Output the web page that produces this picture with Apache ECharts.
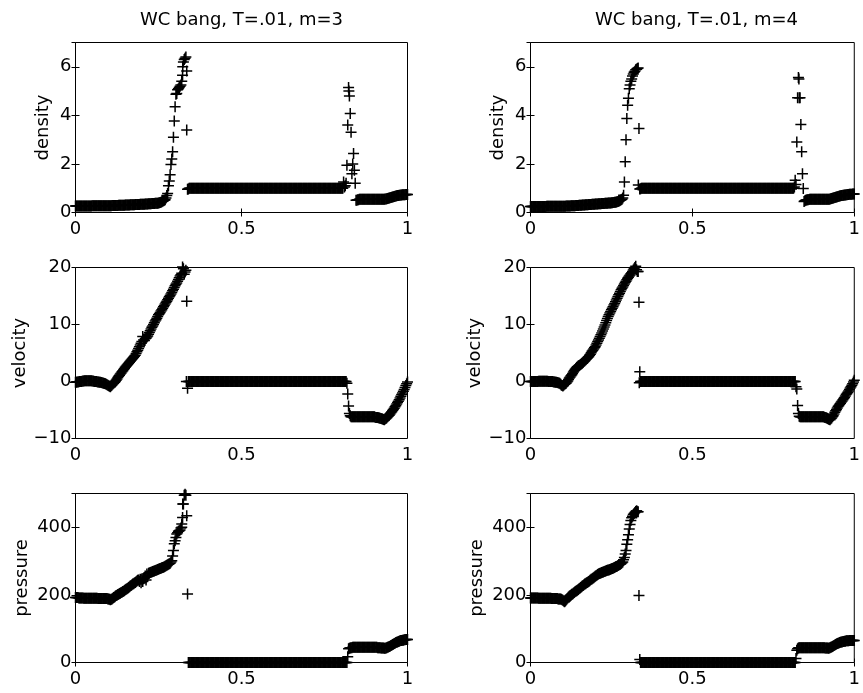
<!DOCTYPE html>
<html>
<head>
<meta charset="utf-8">
<script src="https://cdn.jsdelivr.net/npm/echarts@6/dist/echarts.min.js"></script>
<style>
html,body{margin:0;padding:0;background:#fff;}
#chart{width:863px;height:693px;}
</style>
</head>
<body>
<div id="chart"></div>
<script>
// Shared x grid (cell positions), 401 points
const xGrid = [
0,0.0025,0.005,0.0075,0.01,0.0125,0.015,0.0175,0.02,0.0225,0.025,0.0275,0.03,0.0325,0.035,0.0375,0.04,0.0425,0.045,0.0475,
0.05,0.0525,0.055,0.0575,0.06,0.0625,0.065,0.0675,0.07,0.0725,0.075,0.0775,0.08,0.0825,0.085,0.0875,0.09,0.0925,0.095,0.0975,
0.1,0.1025,0.105,0.1075,0.11,0.1125,0.115,0.1175,0.12,0.1225,0.125,0.1275,0.13,0.1325,0.135,0.1375,0.14,0.1425,0.145,0.1475,
0.15,0.1525,0.155,0.1575,0.16,0.1625,0.165,0.1675,0.17,0.1725,0.175,0.1775,0.18,0.1825,0.185,0.1875,0.19,0.1925,0.195,0.1975,
0.2,0.2025,0.205,0.2075,0.21,0.2125,0.215,0.2175,0.22,0.2225,0.225,0.2275,0.23,0.2325,0.235,0.2375,0.24,0.2425,0.245,0.2475,
0.25,0.2525,0.255,0.2575,0.26,0.2625,0.265,0.2675,0.27,0.2725,0.275,0.2775,0.28,0.2825,0.285,0.2875,0.29,0.2925,0.295,0.2975,
0.3,0.3025,0.305,0.3075,0.31,0.3125,0.315,0.3175,0.32,0.3225,0.325,0.3275,0.33,0.3325,0.335,0.3375,0.34,0.3425,0.345,0.3475,
0.35,0.3525,0.355,0.3575,0.36,0.3625,0.365,0.3675,0.37,0.3725,0.375,0.3775,0.38,0.3825,0.385,0.3875,0.39,0.3925,0.395,0.3975,
0.4,0.4025,0.405,0.4075,0.41,0.4125,0.415,0.4175,0.42,0.4225,0.425,0.4275,0.43,0.4325,0.435,0.4375,0.44,0.4425,0.445,0.4475,
0.45,0.4525,0.455,0.4575,0.46,0.4625,0.465,0.4675,0.47,0.4725,0.475,0.4775,0.48,0.4825,0.485,0.4875,0.49,0.4925,0.495,0.4975,
0.5,0.5025,0.505,0.5075,0.51,0.5125,0.515,0.5175,0.52,0.5225,0.525,0.5275,0.53,0.5325,0.535,0.5375,0.54,0.5425,0.545,0.5475,
0.55,0.5525,0.555,0.5575,0.56,0.5625,0.565,0.5675,0.57,0.5725,0.575,0.5775,0.58,0.5825,0.585,0.5875,0.59,0.5925,0.595,0.5975,
0.6,0.6025,0.605,0.6075,0.61,0.6125,0.615,0.6175,0.62,0.6225,0.625,0.6275,0.63,0.6325,0.635,0.6375,0.64,0.6425,0.645,0.6475,
0.65,0.6525,0.655,0.6575,0.66,0.6625,0.665,0.6675,0.67,0.6725,0.675,0.6775,0.68,0.6825,0.685,0.6875,0.69,0.6925,0.695,0.6975,
0.7,0.7025,0.705,0.7075,0.71,0.7125,0.715,0.7175,0.72,0.7225,0.725,0.7275,0.73,0.7325,0.735,0.7375,0.74,0.7425,0.745,0.7475,
0.75,0.7525,0.755,0.7575,0.76,0.7625,0.765,0.7675,0.77,0.7725,0.775,0.7775,0.78,0.7825,0.785,0.7875,0.79,0.7925,0.795,0.7975,
0.8,0.8025,0.805,0.8075,0.81,0.8125,0.815,0.8175,0.82,0.8225,0.825,0.8275,0.83,0.8325,0.835,0.8375,0.84,0.8425,0.845,0.8475,
0.85,0.8525,0.855,0.8575,0.86,0.8625,0.865,0.8675,0.87,0.8725,0.875,0.8775,0.88,0.8825,0.885,0.8875,0.89,0.8925,0.895,0.8975,
0.9,0.9025,0.905,0.9075,0.91,0.9125,0.915,0.9175,0.92,0.9225,0.925,0.9275,0.93,0.9325,0.935,0.9375,0.94,0.9425,0.945,0.9475,
0.95,0.9525,0.955,0.9575,0.96,0.9625,0.965,0.9675,0.97,0.9725,0.975,0.9775,0.98,0.9825,0.985,0.9875,0.99,0.9925,0.995,0.9975,
1];

// density, m=3
const densityM3 = [
0.27,0.27,0.27,0.27,0.27,0.27,0.27,0.27,0.27,0.27,0.27,0.27,0.27,0.27,0.27,0.27,0.27,0.27,0.27,0.27,
0.28,0.28,0.28,0.28,0.28,0.28,0.28,0.28,0.28,0.28,0.28,0.28,0.28,0.28,0.28,0.28,0.28,0.28,0.28,0.28,
0.28,0.28,0.28,0.28,0.29,0.29,0.29,0.29,0.29,0.29,0.29,0.29,0.3,0.3,0.3,0.3,0.3,0.3,0.3,0.3,
0.31,0.31,0.31,0.31,0.31,0.31,0.32,0.32,0.32,0.32,0.32,0.32,0.33,0.33,0.33,0.33,0.33,0.33,0.34,0.34,
0.34,0.34,0.34,0.34,0.35,0.35,0.35,0.35,0.36,0.36,0.36,0.36,0.37,0.37,0.37,0.37,0.38,0.38,0.38,0.38,
0.39,0.4,0.41,0.42,0.44,0.46,0.48,0.5,0.52,0.6,0.7,0.78,1.1,1.3,1.55,1.98,2.2,2.5,3.1,3.77,
4.35,4.87,4.9,5.05,5.1,5.15,5.2,5.25,5.4,5.65,6.2,6.3,6.35,6.4,3.4,0.96,0.97,1,1,1,
1,1,1,1,1,1,1,1,1,1,1,1,1,1,1,1,1,1,1,1,
1,1,1,1,1,1,1,1,1,1,1,1,1,1,1,1,1,1,1,1,
1,1,1,1,1,1,1,1,1,1,1,1,1,1,1,1,1,1,1,1,
1,1,1,1,1,1,1,1,1,1,1,1,1,1,1,1,1,1,1,1,
1,1,1,1,1,1,1,1,1,1,1,1,1,1,1,1,1,1,1,1,
1,1,1,1,1,1,1,1,1,1,1,1,1,1,1,1,1,1,1,1,
1,1,1,1,1,1,1,1,1,1,1,1,1,1,1,1,1,1,1,1,
1,1,1,1,1,1,1,1,1,1,1,1,1,1,1,1,1,1,1,1,
1,1,1,1,1,1,1,1,1,1,1,1,1,1,1,1,1,1,1,1,
1,1,1,1.26,1.05,1.1,1.2,1.95,3.6,5.15,4.8,4.08,3.3,1.6,2.0,2.43,1.74,1.2,0.5,0.5,
0.52,0.53,0.55,0.55,0.55,0.55,0.55,0.55,0.55,0.55,0.55,0.55,0.55,0.55,0.55,0.55,0.55,0.55,0.55,0.55,
0.55,0.55,0.55,0.55,0.55,0.55,0.55,0.55,0.55,0.55,0.55,0.55,0.55,0.555,0.56,0.57,0.58,0.59,0.6,0.61,
0.62,0.63,0.64,0.65,0.66,0.67,0.68,0.69,0.7,0.705,0.71,0.715,0.72,0.725,0.73,0.73,0.73,0.735,0.74,0.74,
0.74];
const densityM3Extra = [[0.335,5.83],[0.323,6.0],[0.8235,5.0]];

// density, m=4
const densityM4 = [
0.25,0.25,0.25,0.25,0.25,0.25,0.25,0.25,0.25,0.25,0.25,0.25,0.25,0.25,0.25,0.25,0.25,0.25,0.25,0.25,
0.26,0.26,0.26,0.26,0.26,0.26,0.26,0.26,0.26,0.26,0.26,0.26,0.26,0.26,0.26,0.26,0.26,0.26,0.26,0.26,
0.26,0.26,0.26,0.26,0.27,0.27,0.27,0.27,0.27,0.27,0.28,0.28,0.28,0.28,0.28,0.28,0.29,0.29,0.29,0.29,
0.3,0.3,0.3,0.3,0.31,0.31,0.31,0.31,0.32,0.32,0.32,0.32,0.33,0.33,0.33,0.33,0.34,0.34,0.34,0.34,
0.35,0.35,0.35,0.35,0.36,0.36,0.36,0.36,0.37,0.37,0.37,0.37,0.38,0.38,0.38,0.38,0.39,0.39,0.39,0.39,
0.4,0.4,0.41,0.41,0.42,0.42,0.43,0.44,0.45,0.46,0.48,0.5,0.52,0.55,0.6,0.71,1.26,2.09,3.0,3.87,
4.42,4.7,5.1,5.25,5.4,5.5,5.62,5.7,5.78,5.82,5.88,5.9,5.93,5.95,3.46,0.97,0.98,1,1,1,
1,1,1,1,1,1,1,1,1,1,1,1,1,1,1,1,1,1,1,1,
1,1,1,1,1,1,1,1,1,1,1,1,1,1,1,1,1,1,1,1,
1,1,1,1,1,1,1,1,1,1,1,1,1,1,1,1,1,1,1,1,
1,1,1,1,1,1,1,1,1,1,1,1,1,1,1,1,1,1,1,1,
1,1,1,1,1,1,1,1,1,1,1,1,1,1,1,1,1,1,1,1,
1,1,1,1,1,1,1,1,1,1,1,1,1,1,1,1,1,1,1,1,
1,1,1,1,1,1,1,1,1,1,1,1,1,1,1,1,1,1,1,1,
1,1,1,1,1,1,1,1,1,1,1,1,1,1,1,1,1,1,1,1,
1,1,1,1,1,1,1,1,1,1,1,1,1,1,1,1,1,1,1,1,
1,1,1,1,1,1,1.05,1.33,1.15,2.9,4.72,5.56,4.72,4.72,3.62,2.5,1.6,0.99,0.45,0.48,
0.5,0.51,0.52,0.53,0.54,0.55,0.55,0.55,0.55,0.55,0.55,0.55,0.55,0.55,0.55,0.55,0.55,0.55,0.55,0.55,
0.55,0.55,0.55,0.55,0.55,0.55,0.55,0.55,0.55,0.55,0.56,0.57,0.58,0.59,0.6,0.61,0.62,0.63,0.64,0.65,
0.66,0.67,0.68,0.69,0.7,0.705,0.71,0.715,0.72,0.725,0.73,0.735,0.74,0.745,0.75,0.75,0.75,0.755,0.76,0.76,
0.76];
const densityM4Extra = [[0.333,1.13],[0.829,5.5]];

// velocity, m=3
const velocityM3 = [
-0.15,-0.12,-0.1,-0.08,-0.05,-0.02,0,0.02,0.05,0.08,0.1,0.12,0.13,0.14,0.15,0.15,0.15,0.14,0.13,0.12,
0.1,0.08,0.05,0.02,0,-0.02,-0.05,-0.08,-0.1,-0.12,-0.15,-0.18,-0.2,-0.25,-0.3,-0.35,-0.4,-0.48,-0.55,-0.65,
-0.75,-0.82,-0.9,-0.75,-0.6,-0.45,-0.3,-0.15,0,0.22,0.45,0.68,0.9,1.1,1.3,1.5,1.7,1.9,2.1,2.3,
2.5,2.68,2.85,3.02,3.2,3.38,3.55,3.72,3.9,4.08,4.25,4.42,4.6,4.9,5.2,5.5,5.8,6.1,6.4,6.7,
7.0,7.9,7.3,7.2,7.5,7.6,7.8,8.0,8.3,8.6,8.9,9.2,9.5,9.75,10.0,10.3,10.6,10.85,11.1,11.4,
11.7,11.9,12.1,12.35,12.6,12.85,13.1,13.35,13.6,13.85,14.1,14.35,14.6,14.85,15.1,15.35,15.6,15.9,16.2,16.5,
16.8,17.05,17.3,17.6,17.9,18.2,18.5,18.75,19.0,20.1,19.8,18.8,19.2,19.5,14.1,-1.2,0,0,0,0,
0,0,0,0,0,0,0,0,0,0,0,0,0,0,0,0,0,0,0,0,
0,0,0,0,0,0,0,0,0,0,0,0,0,0,0,0,0,0,0,0,
0,0,0,0,0,0,0,0,0,0,0,0,0,0,0,0,0,0,0,0,
0,0,0,0,0,0,0,0,0,0,0,0,0,0,0,0,0,0,0,0,
0,0,0,0,0,0,0,0,0,0,0,0,0,0,0,0,0,0,0,0,
0,0,0,0,0,0,0,0,0,0,0,0,0,0,0,0,0,0,0,0,
0,0,0,0,0,0,0,0,0,0,0,0,0,0,0,0,0,0,0,0,
0,0,0,0,0,0,0,0,0,0,0,0,0,0,0,0,0,0,0,0,
0,0,0,0,0,0,0,0,0,0,0,0,0,0,0,0,0,0,0,0,
0,0,0,0,0,0,0,-0.3,-2.2,-4.3,-5.6,-6.0,-6.2,-6.2,-6.2,-6.2,-6.2,-6.2,-6.2,-6.2,
-6.2,-6.2,-6.2,-6.2,-6.2,-6.2,-6.2,-6.2,-6.2,-6.2,-6.2,-6.2,-6.2,-6.2,-6.2,-6.2,-6.2,-6.2,-6.2,-6.2,
-6.2,-6.25,-6.3,-6.3,-6.3,-6.35,-6.4,-6.45,-6.5,-6.55,-6.6,-6.65,-6.7,-6.6,-6.5,-6.35,-6.2,-6.05,-5.9,-5.7,
-5.5,-5.3,-5.1,-4.9,-4.7,-4.45,-4.2,-3.95,-3.7,-3.45,-3.2,-2.9,-2.6,-2.3,-2.0,-1.7,-1.4,-1.05,-0.7,-0.4,
-0.1];
const velocityM3Extra = [[0.334,0]];

// velocity, m=4
const velocityM4 = [
0,0,0,0,0,0,0,0,0,0,0.05,0.05,0.05,0.05,0.05,0.05,0.05,0.05,0.05,0.05,
0.05,0.05,0.02,0,0,0,0,0,-0.05,-0.08,-0.1,-0.12,-0.15,-0.18,-0.2,-0.25,-0.3,-0.45,-0.6,-0.7,
-0.8,-0.65,-0.5,-0.4,-0.3,-0.1,0.1,0.35,0.6,0.8,1.0,1.2,1.4,1.65,1.9,2.1,2.3,2.45,2.6,2.7,
2.8,2.9,3.0,3.1,3.2,3.35,3.5,3.65,3.8,3.95,4.1,4.25,4.4,4.6,4.8,5.05,5.3,5.5,5.7,5.9,
6.1,6.4,6.7,7.0,7.3,7.6,7.9,8.2,8.5,8.85,9.2,9.55,9.9,10.3,10.7,11.05,11.4,11.7,12.0,12.3,
12.6,12.85,13.1,13.4,13.7,14.0,14.3,14.6,14.9,15.2,15.5,15.8,16.1,16.35,16.6,16.85,17.1,17.35,17.6,17.85,
18.1,18.3,18.5,18.7,18.9,19.1,19.3,19.55,19.8,20.0,20.2,19.6,19.3,19.3,13.9,1.7,0,0,0,0,
0,0,0,0,0,0,0,0,0,0,0,0,0,0,0,0,0,0,0,0,
0,0,0,0,0,0,0,0,0,0,0,0,0,0,0,0,0,0,0,0,
0,0,0,0,0,0,0,0,0,0,0,0,0,0,0,0,0,0,0,0,
0,0,0,0,0,0,0,0,0,0,0,0,0,0,0,0,0,0,0,0,
0,0,0,0,0,0,0,0,0,0,0,0,0,0,0,0,0,0,0,0,
0,0,0,0,0,0,0,0,0,0,0,0,0,0,0,0,0,0,0,0,
0,0,0,0,0,0,0,0,0,0,0,0,0,0,0,0,0,0,0,0,
0,0,0,0,0,0,0,0,0,0,0,0,0,0,0,0,0,0,0,0,
0,0,0,0,0,0,0,0,0,0,0,0,0,0,0,0,0,0,0,0,
0,0,0,0,0,0,0,0,-0.9,-1.3,-4.2,-5.6,-6.1,-6.2,-6.2,-6.2,-6.2,-6.2,-6.2,-6.2,
-6.2,-6.2,-6.2,-6.2,-6.2,-6.2,-6.2,-6.2,-6.2,-6.2,-6.2,-6.2,-6.2,-6.2,-6.2,-6.2,-6.2,-6.2,-6.2,-6.2,
-6.2,-6.2,-6.2,-6.25,-6.3,-6.35,-6.4,-6.5,-6.6,-6.65,-6.7,-6.55,-6.4,-6.2,-6.0,-5.7,-5.4,-5.15,-4.9,-4.65,
-4.4,-4.2,-4.0,-3.8,-3.6,-3.4,-3.2,-3.0,-2.8,-2.55,-2.3,-2.1,-1.9,-1.65,-1.4,-1.15,-0.9,-0.65,-0.4,-0.1,
0.2];
const velocityM4Extra = [[0.336,-0.2]];

// pressure, m=3
const pressureM3 = [
192,192,192,192,191,191,191,191,191,191,190,190,190,190,190,190,190,190,190,190,
190,190,190,190,190,190,190,189,189,189,189,189,189,189,189,189,189,189,189,188,
188,187,186,187,188,190,192,194,196,198,199,201,202,204,205,207,208,210,211,213,
215,217,218,220,222,224,226,228,230,232,233,235,237,239,241,243,244,240,246,236,
246,240,248,250,256,244,262,256,264,265,266,267,268,269,270,271,272,273,274,275,
276,277,278,279,280,281,282,283,285,286,288,289,291,292,294,297,301,315,331,351,
360,370,380,384,388,390,392,398,410,429,469,495,498,495,434,203,0,0,0,0,
0,0,0,0,0,0,0,0,0,0,0,0,0,0,0,0,0,0,0,0,
0,0,0,0,0,0,0,0,0,0,0,0,0,0,0,0,0,0,0,0,
0,0,0,0,0,0,0,0,0,0,0,0,0,0,0,0,0,0,0,0,
0,0,0,0,0,0,0,0,0,0,0,0,0,0,0,0,0,0,0,0,
0,0,0,0,0,0,0,0,0,0,0,0,0,0,0,0,0,0,0,0,
0,0,0,0,0,0,0,0,0,0,0,0,0,0,0,0,0,0,0,0,
0,0,0,0,0,0,0,0,0,0,0,0,0,0,0,0,0,0,0,0,
0,0,0,0,0,0,0,0,0,0,0,0,0,0,0,0,0,0,0,0,
0,0,0,0,0,0,0,0,0,0,0,0,0,0,0,0,0,0,0,0,
0,0,0,0,0,0,0,0,17,41,42,43,44,44,45,45,45,45,45,45,
45,45,45,45,45,45,45,45,45,45,45,45,45,45,45,45,45,45,45,45,
45,45,45,45,44,44,44,44,43,43,43,43,42,42,43,44,45,46,47,48,
50,51,53,54,56,57,59,60,61,62,63,64,65,65,66,66,67,67,68,68,
68];
const pressureM3Extra = [[0.323,469],[0.32,400]];

// pressure, m=4
const pressureM4 = [
191,191,191,191,191,191,191,191,191,191,190,190,190,190,190,190,190,190,190,190,
190,190,190,190,190,190,189,189,189,189,189,189,189,189,188,188,188,188,187,186,
184,182,180,182,185,188,191,194,196,198,200,202,203,205,207,209,211,212,214,216,
218,220,222,224,226,228,230,232,233,235,237,238,240,242,244,246,247,249,251,253,
255,257,258,260,262,263,264,265,266,267,268,269,270,271,272,273,274,274,275,276,
277,278,279,280,281,283,284,285,287,288,290,291,293,295,297,304,311,321,331,350,
363,378,395,408,420,428,433,438,441,444,447,448,446,446,198,9,0,0,0,0,
0,0,0,0,0,0,0,0,0,0,0,0,0,0,0,0,0,0,0,0,
0,0,0,0,0,0,0,0,0,0,0,0,0,0,0,0,0,0,0,0,
0,0,0,0,0,0,0,0,0,0,0,0,0,0,0,0,0,0,0,0,
0,0,0,0,0,0,0,0,0,0,0,0,0,0,0,0,0,0,0,0,
0,0,0,0,0,0,0,0,0,0,0,0,0,0,0,0,0,0,0,0,
0,0,0,0,0,0,0,0,0,0,0,0,0,0,0,0,0,0,0,0,
0,0,0,0,0,0,0,0,0,0,0,0,0,0,0,0,0,0,0,0,
0,0,0,0,0,0,0,0,0,0,0,0,0,0,0,0,0,0,0,0,
0,0,0,0,0,0,0,0,0,0,0,0,0,0,0,0,0,0,0,0,
0,0,0,0,0,0,0,0,12,36,41,43,44,44,44,44,44,44,44,44,
44,44,44,44,44,44,44,44,44,44,44,44,44,44,44,44,44,44,44,44,
44,44,44,44,43,43,43,43,42,43,44,45,46,47,49,50,52,53,55,56,
57,58,59,60,61,61,62,62,63,63,64,64,64,64,65,65,65,65,65,65,
65];
const pressureM4Extra = [[0.328,448]];

const titles = ['WC bang, T=.01, m=3', 'WC bang, T=.01, m=4'];
const yNames = ['density', 'velocity', 'pressure'];

const FONT = 'DejaVu Sans';
const FS = 18;

const panels = [
  {vals: densityM3, extra: densityM3Extra, row: 0, col: 0},
  {vals: densityM4, extra: densityM4Extra, row: 0, col: 1},
  {vals: velocityM3, extra: velocityM3Extra, row: 1, col: 0},
  {vals: velocityM4, extra: velocityM4Extra, row: 1, col: 1},
  {vals: pressureM3, extra: pressureM3Extra, row: 2, col: 0},
  {vals: pressureM4, extra: pressureM4Extra, row: 2, col: 1}
];
// hide: the axis end that carries no tick label in the reference
const yRanges = [{min: 0, max: 7, interval: 2, hide: 7}, {min: -10, max: 20, interval: 10, hide: null}, {min: 0, max: 500, interval: 200, hide: 500}];
const colLeft = [75.5, 530.5];
const rowTop = [42.5, 267.5, 493.5];
const rowH = [170, 171, 169];
const nameGaps = [[23, 23], [44, 44], [44, 44]];

const grid = [], xAxis = [], yAxis = [], series = [];
panels.forEach((p, g) => {
  grid.push({left: colLeft[p.col], top: rowTop[p.row], width: 332, height: rowH[p.row],
    show: true, borderColor: '#000', borderWidth: 1, backgroundColor: 'transparent'});
  const yr = yRanges[p.row];
  const xBase = {type: 'value', gridIndex: g, min: 0, max: 1, interval: 0.5,
    axisLine: {show: false}, splitLine: {show: false},
    axisTick: {show: true, inside: true, length: 4, lineStyle: {color: '#000', width: 1}}};
  xAxis.push(Object.assign({}, xBase, {position: 'bottom',
    axisLabel: {show: true, margin: 8, color: '#000', fontFamily: FONT, fontSize: FS,
      formatter: v => String(v)}}));
  xAxis.push(Object.assign({}, xBase, {position: 'top', axisLabel: {show: false}}));
  const yBase = {type: 'value', gridIndex: g, min: yr.min, max: yr.max, interval: yr.interval,
    axisLine: {show: false}, splitLine: {show: false},
    axisTick: {show: true, inside: true, length: 4, lineStyle: {color: '#000', width: 1}}};
  yAxis.push(Object.assign({}, yBase, {position: 'left',
    name: yNames[p.row], nameLocation: 'middle', nameGap: nameGaps[p.row][p.col],
    nameTextStyle: {color: '#000', fontFamily: FONT, fontSize: FS},
    axisLabel: {show: true, margin: 4, color: '#000', fontFamily: FONT, fontSize: FS,
      padding: [4, 0, 0, 0],
      formatter: v => (v === yr.hide ? '' : String(v).replace('-', '\u2212'))}}));
  yAxis.push(Object.assign({}, yBase, {position: 'right', axisLabel: {show: false}}));
  const data = xGrid.map((x, i) => [x, p.vals[i]]).concat(p.extra);
  series.push({type: 'scatter', xAxisIndex: 2 * g, yAxisIndex: 2 * g, data: data,
    symbol: 'path://M0,5L10,5M5,0L5,10', symbolSize: 11, clip: false, silent: true,
    itemStyle: {color: 'rgba(0,0,0,0)', borderColor: '#000', borderWidth: 1.5, opacity: 1}});
});

const chart = echarts.init(document.getElementById('chart'), null, {renderer: 'canvas'});
chart.setOption({
  animation: false,
  backgroundColor: '#fff',
  grid: grid, xAxis: xAxis, yAxis: yAxis, series: series,
  graphic: titles.map((t, c) => ({
    type: 'text', x: colLeft[c] + 166, y: 20,
    style: {text: t, fill: '#000', font: FS + 'px "' + FONT + '"', fontFamily: FONT, fontSize: FS,
      align: 'center', verticalAlign: 'middle', textAlign: 'center', textVerticalAlign: 'middle'}
  }))
});
</script>
</body>
</html>
